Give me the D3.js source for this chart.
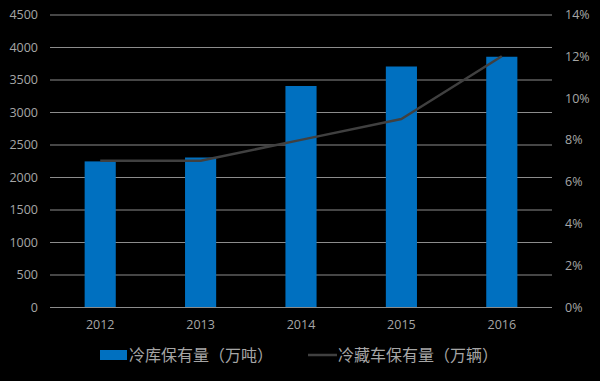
<!DOCTYPE html>
<html><head><meta charset="utf-8">
<script src="https://cdn.jsdelivr.net/npm/d3@7"></script>
<style>
html,body{margin:0;padding:0;background:#000;}
svg{display:block;font-family:"Noto Sans CJK SC","Noto Sans",sans-serif;}
</style></head><body>
<svg id="c" width="600" height="381"></svg>
<script>
const categories = ["2012","2013","2014","2015","2016"];
const coldStorage = [2240, 2300, 3400, 3700, 3850];
const reeferRate = [0.07, 0.07, 0.08, 0.09, 0.12];
const leftTicks = [0,500,1000,1500,2000,2500,3000,3500,4000,4500];
const rightTicks = [0,0.02,0.04,0.06,0.08,0.10,0.12,0.14];
const seriesNames = ["冷库保有量（万吨）","冷藏车保有量（万辆）"];

const svg = d3.select("#c");
const pLeft = 50, pRight = 552, pTop = 14.5, pBottom = 307;
const x = d3.scaleBand().domain(categories).range([pLeft, pRight]).paddingInner(0.69).paddingOuter(0.345);
const yL = d3.scaleLinear().domain([0,4500]).range([pBottom, pTop]);
const yR = d3.scaleLinear().domain([0,0.14]).range([pBottom, pTop]);
const textColor = "#a6a6a6";
const tickFont = "'Open Sans','Noto Sans',sans-serif";

// gridlines
const gl = svg.append("g").attr("transform", `translate(${pLeft},0)`)
  .call(d3.axisRight(yL).tickValues(leftTicks).tickSize(pRight-pLeft).tickFormat(""));
gl.select(".domain").remove();
gl.selectAll("line").attr("stroke","#8c8c8c").attr("stroke-width",1);

// left axis labels
const ax = svg.append("g").attr("transform", `translate(${pLeft},0)`)
  .call(d3.axisLeft(yL).tickValues(leftTicks).tickSize(0).tickPadding(12).tickFormat(d3.format("d")));
ax.select(".domain").remove();
ax.selectAll("text").attr("fill",textColor).style("font-size","12.5px").style("font-family",tickFont);

// right axis labels
const ar = svg.append("g").attr("transform", `translate(${pRight},0)`)
  .call(d3.axisRight(yR).tickValues(rightTicks).tickSize(0).tickPadding(13).tickFormat(d3.format(".0%")));
ar.select(".domain").remove();
ar.selectAll("text").attr("fill",textColor).style("font-size","12.5px").style("font-family",tickFont);

// x axis labels
const axx = svg.append("g").attr("transform", `translate(0,${pBottom})`)
  .call(d3.axisBottom(x).tickSize(0).tickPadding(13));
axx.select(".domain").remove();
axx.selectAll("text").attr("fill",textColor).style("font-size","12.5px").style("font-family",tickFont);

// bars
svg.append("g").selectAll("rect").data(coldStorage).join("rect")
  .attr("x",(d,i)=>x(categories[i])).attr("width",x.bandwidth())
  .attr("y",d=>yL(d)).attr("height",d=>pBottom-yL(d)).attr("fill","#0070C0");

// line
const line = d3.line().x((d,i)=>x(categories[i])+x.bandwidth()/2).y(d=>yR(d));
svg.append("path").datum(reeferRate).attr("d",line).attr("fill","none")
  .attr("stroke","#404040").attr("stroke-width",2.5).attr("stroke-linejoin","round");

// legend
const lg = svg.append("g");
lg.append("rect").attr("x",100).attr("y",350).attr("width",27).attr("height",10).attr("fill","#0070C0");
lg.append("text").attr("x",129).attr("y",361).text(seriesNames[0]).attr("fill",textColor).style("font-size","16px");
lg.append("line").attr("x1",308).attr("x2",337).attr("y1",355).attr("y2",355).attr("stroke","#404040").attr("stroke-width",2.5);
lg.append("text").attr("x",338).attr("y",361).text(seriesNames[1]).attr("fill",textColor).style("font-size","16px");
</script>
</body></html>
